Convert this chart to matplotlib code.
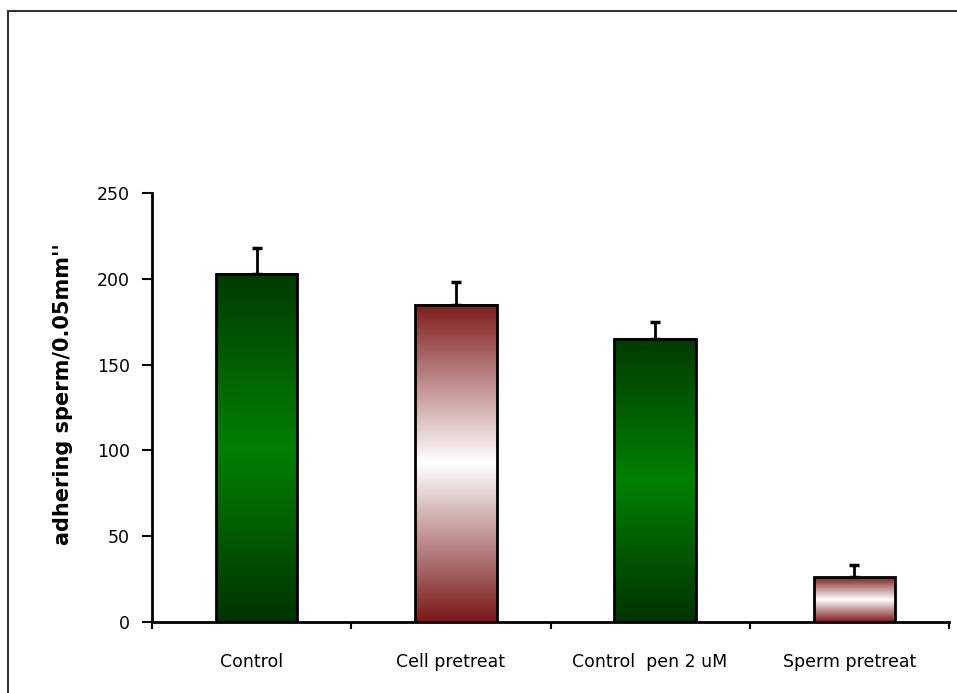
import matplotlib.pyplot as plt
import numpy as np
from matplotlib.colors import LinearSegmentedColormap
from matplotlib.lines import Line2D

# data
categories = ['Control', 'Cell pretreat', 'Control  pen 2 uM', 'Sperm pretreat']
means = [203, 185, 165, 26]
errors = [15, 13, 10, 7]
fills = ['green', 'red', 'green', 'red']

cmaps = {
    'green': LinearSegmentedColormap.from_list('g', ['#003300', '#008000', '#003a00']),
    'red': LinearSegmentedColormap.from_list('r', ['#7a1818', '#ffffff', '#7f1c1c']),
}

fig = plt.figure(figsize=(9.57, 6.93), dpi=100)
ax = fig.add_axes([152 / 957, 71 / 693, 797 / 957, 429 / 693])

x = np.arange(len(categories))
xb = x + 0.025  # bars sit a touch right of the category centre
width = 0.41
grad = np.linspace(0, 1, 256).reshape(-1, 1)

for xi, m, f in zip(xb, means, fills):
    ax.imshow(grad, extent=[xi - width / 2, xi + width / 2, 0, m], origin='lower',
              aspect='auto', cmap=cmaps[f], zorder=2, interpolation='bilinear')

ax.bar(xb, means, width=width, fill=False, edgecolor='black', linewidth=2, zorder=3)
ax.errorbar(xb, means, yerr=[np.zeros(len(errors)), errors], fmt='none',
            ecolor='black', elinewidth=2, capsize=3.5, capthick=2.5, zorder=1)

ax.set_xlim(-0.5, len(categories) - 0.5)
ax.set_ylim(0, 250)
ax.set_yticks([0, 50, 100, 150, 200, 250])
ax.tick_params(axis='y', direction='out', length=7, width=1.5, pad=9, labelsize=12.5)

ax.set_xticks(x)
ax.set_xticklabels(categories, fontsize=12.5)
ax.tick_params(axis='x', which='major', length=0, pad=22)
ax.set_xticks(np.arange(len(categories) + 1) - 0.5, minor=True)
ax.tick_params(axis='x', which='minor', direction='out', length=5, width=1.5)

for s in ['top', 'right']:
    ax.spines[s].set_visible(False)
for s in ['left', 'bottom']:
    ax.spines[s].set_linewidth(2)

fig.text(63 / 957, 1 - 394 / 693, "adhering sperm/0.05mm''", rotation=90,
         ha='center', va='center', fontsize=15, fontweight='bold')

# outer frame (only top and left edges show)
fig.add_artist(Line2D([8 / 957, 8 / 957], [0, 1 - 11 / 693], color='#333333', lw=1.5))
fig.add_artist(Line2D([8 / 957, 1], [1 - 11 / 693, 1 - 11 / 693], color='#333333', lw=1.5))

fig.savefig('out.png', dpi=100)
